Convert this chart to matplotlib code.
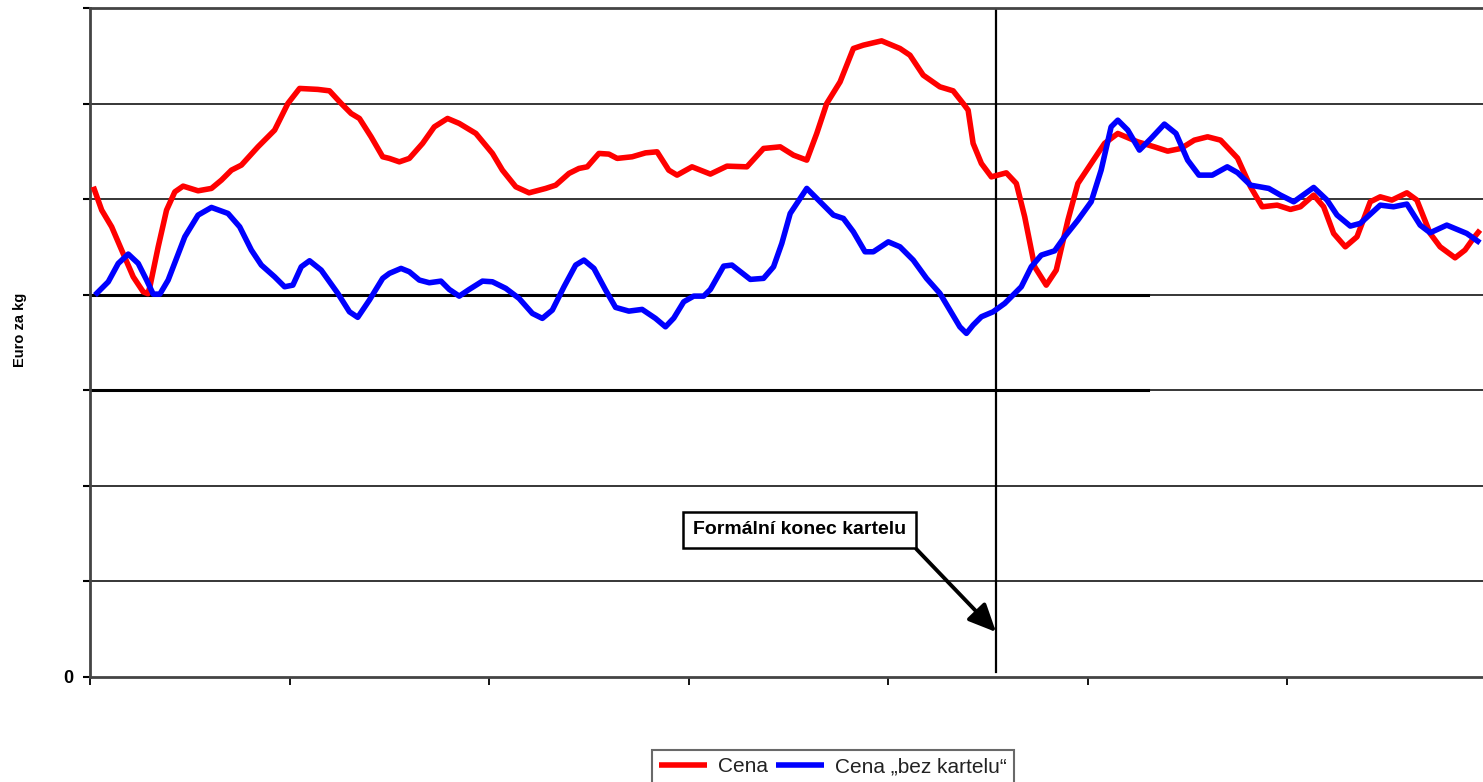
import matplotlib
matplotlib.use("Agg")
import matplotlib.pyplot as plt

plt.rcParams["font.family"] = ["Liberation Sans", "DejaVu Sans"]

# Cena (red) - x in weeks-like index, y in Euro/kg grid units
cena_x = [0.33, 1.17, 2.17, 3.17, 4.33, 5.33, 5.8, 6.0, 6.83, 7.67, 8.5, 9.33,
          10.83, 12.17, 13.17, 14.17, 15.17, 16.83, 18.5, 19.83, 21.0, 22.83,
          24.0, 25.17, 26.17, 27.0, 28.17, 29.33, 30.0, 31.0, 32.0, 33.33, 34.5,
          35.83, 37.0, 38.67, 40.33, 41.33, 42.67, 44.0, 45.67, 46.67, 48.0,
          49.0, 49.83, 51.0, 52.0, 52.83, 54.33, 55.67, 56.83, 58.0, 58.83,
          60.33, 62.17, 63.83, 65.83, 67.5, 69.17, 70.5, 71.83, 72.83, 73.83,
          75.17, 76.5, 77.5, 79.33, 81.17, 82.17, 83.5, 85.17, 86.5, 87.5, 88.0,
          88.5, 89.33, 90.33, 91.83, 92.83, 93.67, 94.67, 95.83, 96.83, 98.0,
          99.0, 100.33, 101.67, 103.0, 105.0, 106.67, 108.0, 109.33, 110.67,
          112.0, 113.3, 115.0, 116.3, 117.47, 118.97, 120.3, 121.3, 122.63,
          123.63, 124.63, 125.8, 126.97, 128.3, 129.3, 130.47, 131.97, 132.97,
          134.3, 135.3, 136.8, 137.8, 138.63, 139.3]
cena_y = [5.13, 4.885, 4.71, 4.467, 4.187, 4.03, 4.01, 4.083, 4.50, 4.885,
          5.076, 5.136, 5.087, 5.112, 5.199, 5.303, 5.356, 5.547, 5.722, 6.001,
          6.158, 6.148, 6.133, 6.001, 5.896, 5.844, 5.652, 5.443, 5.426, 5.390,
          5.426, 5.583, 5.756, 5.844, 5.792, 5.687, 5.478, 5.303, 5.129, 5.066,
          5.112, 5.146, 5.269, 5.321, 5.338, 5.478, 5.471, 5.426, 5.443, 5.484,
          5.495, 5.303, 5.251, 5.338, 5.262, 5.345, 5.338, 5.530, 5.547, 5.460,
          5.408, 5.687, 6.001, 6.227, 6.576, 6.611, 6.656, 6.576, 6.506, 6.297,
          6.175, 6.133, 6.001, 5.931, 5.583, 5.373, 5.233, 5.275, 5.164, 4.815,
          4.292, 4.100, 4.257, 4.780, 5.164, 5.373, 5.583, 5.687, 5.599, 5.547,
          5.502, 5.530, 5.617, 5.652, 5.617, 5.429, 5.129, 4.920, 4.937, 4.892,
          4.920, 5.042, 4.920, 4.641, 4.501, 4.606, 4.972, 5.024, 4.990, 5.066,
          4.990, 4.641, 4.501, 4.386, 4.467, 4.589, 4.676]

# Cena "bez kartelu" (blue)
bez_x = [0.5, 1.83, 2.83, 3.83, 4.83, 5.67, 6.33, 7.0, 7.83, 9.5, 10.83, 12.17,
         13.83, 15.0, 16.17, 17.17, 18.5, 19.5, 20.33, 21.17, 22.0, 23.17,
         24.83, 26.0, 26.83, 28.0, 29.33, 30.0, 31.17, 32.0, 33.0, 34.0, 35.17,
         36.0, 37.0, 38.0, 39.33, 40.33, 41.67, 43.0, 44.33, 45.33, 46.33, 47.5,
         48.67, 49.5, 50.5, 51.67, 52.67, 54.0, 55.33, 56.67, 57.67, 58.5, 59.5,
         60.5, 61.5, 62.17, 63.5, 64.33, 66.17, 67.5, 68.5, 69.33, 70.17, 71.83,
         73.17, 74.5, 75.5, 76.5, 77.67, 78.5, 80.0, 81.17, 82.5, 83.83, 85.17,
         86.17, 87.17, 87.83, 88.5, 89.33, 90.5, 91.67, 93.33, 94.33, 95.33,
         96.67, 97.67, 99.0, 100.33, 101.33, 102.33, 103.0, 104.0, 105.17,
         106.33, 107.67, 108.83, 110.0, 111.13, 112.47, 113.97, 115.0, 116.3,
         118.13, 119.3, 120.63, 122.63, 123.97, 124.97, 126.3, 127.3, 129.3,
         130.63, 131.97, 133.3, 134.3, 135.97, 137.97, 139.3]
bez_y = [3.996, 4.135, 4.327, 4.425, 4.327, 4.153, 4.006, 4.006, 4.153, 4.606,
         4.833, 4.913, 4.850, 4.710, 4.467, 4.310, 4.187, 4.083, 4.100, 4.292,
         4.355, 4.257, 4.014, 3.821, 3.763, 3.944, 4.171, 4.223, 4.275, 4.240,
         4.153, 4.125, 4.142, 4.055, 3.985, 4.055, 4.142, 4.135, 4.066, 3.961,
         3.804, 3.752, 3.839, 4.083, 4.310, 4.362, 4.275, 4.048, 3.867, 3.828,
         3.846, 3.752, 3.664, 3.755, 3.926, 3.985, 3.985, 4.055, 4.299, 4.310,
         4.160, 4.171, 4.292, 4.537, 4.850, 5.112, 4.972, 4.833, 4.798, 4.658,
         4.449, 4.449, 4.553, 4.501, 4.362, 4.171, 4.014, 3.839, 3.664, 3.595,
         3.682, 3.769, 3.821, 3.909, 4.083, 4.292, 4.414, 4.459, 4.606, 4.780,
         4.972, 5.303, 5.756, 5.826, 5.722, 5.513, 5.635, 5.785, 5.687, 5.408,
         5.251, 5.251, 5.338, 5.277, 5.146, 5.112, 5.042, 4.972, 5.122, 4.990,
         4.833, 4.718, 4.746, 4.937, 4.920, 4.948, 4.728, 4.648, 4.728, 4.641,
         4.543]

konec_x = 90.8          # formal end of cartel
y_grid = [1, 2, 3, 4, 5, 6, 7]
x_ticks = [0, 20, 40, 60, 80, 100, 120, 140]

fig = plt.figure(figsize=(14.83, 7.82), dpi=100)
ax = fig.add_axes([0.0607, 0.1343, 0.942, 0.8555])
ax.set_xlim(0, 140)
ax.set_ylim(0, 7)

# grid lines
for g in y_grid[:-1]:
    ax.axhline(g, color="black", lw=1.1, zorder=1)
for g in (3, 4):
    ax.axhline(g, xmin=0, xmax=0.757, color="black", lw=2.2, zorder=1)

ax.plot(cena_x, cena_y, color="#ff0000", lw=4, label="Cena", zorder=3,
        solid_joinstyle="round", solid_capstyle="butt")
ax.plot(bez_x, bez_y, color="#0000ff", lw=4, label="Cena \u201ebez kartelu\u201c",
        zorder=3, solid_joinstyle="round", solid_capstyle="butt")

ax.axvline(konec_x, ymin=0.008, ymax=0.997, color="black", lw=1.6, zorder=2)

ax.annotate("Formální konec kartelu", xy=(konec_x, 0.47), xytext=(71.1, 1.54),
            ha="center", va="center", fontsize=14, fontweight="bold",
            bbox=dict(boxstyle="square,pad=0.5", fc="white", ec="black", lw=1.8),
            arrowprops=dict(arrowstyle="-|>,head_length=1.2,head_width=0.55",
                            color="black", lw=2.8, relpos=(1, 0),
                            shrinkA=0, shrinkB=0),
            zorder=4)

for side in ("left", "bottom", "top"):
    ax.spines[side].set_color("#444444")
    ax.spines[side].set_linewidth(2)
ax.spines["right"].set_visible(False)

ax.set_yticks([0] + y_grid)
ax.set_yticklabels(["0"] + [""] * len(y_grid), fontsize=13, fontweight="bold")
ax.set_xticks(x_ticks)
ax.set_xticklabels([])
ax.tick_params(axis="y", direction="out", length=5, width=1.5, pad=7)
ax.tick_params(axis="x", direction="out", length=6, width=1.3)

fig.text(0.0135, 0.578, "Euro za kg", rotation=90, ha="center", va="center",
         fontsize=10.5, fontweight="bold")

leg = fig.legend(loc="upper center", bbox_to_anchor=(0.5617, 0.0409), ncol=2,
                 fontsize=15, frameon=True, fancybox=False, handlelength=2.3,
                 handletextpad=0.55, columnspacing=0.35, borderpad=0.35,
                 borderaxespad=0)
leg.get_frame().set_edgecolor("#444444")
leg.get_frame().set_linewidth(1.5)
for t in leg.get_texts():
    t.set_color("#222222")

fig.savefig("out.png", dpi=100)
